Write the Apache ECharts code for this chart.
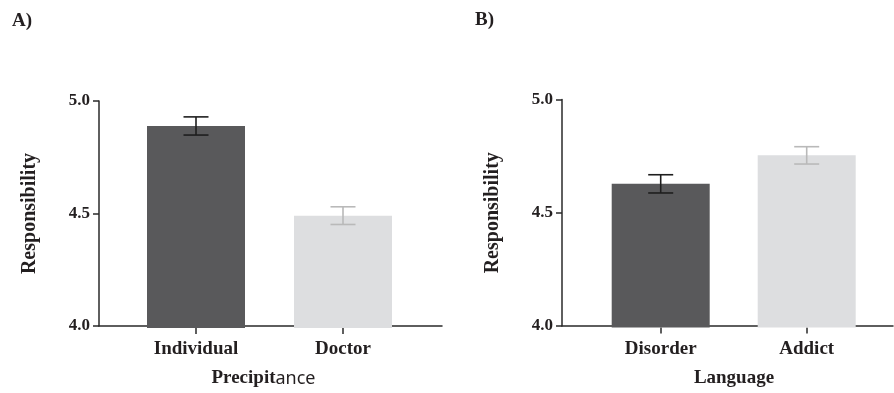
<!DOCTYPE html>
<html>
<head>
<meta charset="utf-8">
<script src="https://cdn.jsdelivr.net/npm/echarts@6/dist/echarts.min.js"></script>
<style>html,body{margin:0;padding:0;background:#fff}#c{width:894px;height:393px}</style>
</head>
<body>
<div id="c"></div>
<script>
// ---- data ----
const catsA = ['Individual', 'Doctor'];
const meansA = [4.89, 4.495];
const errsA = [0.04, 0.039];
const catsB = ['Disorder', 'Addict'];
const meansB = [4.63, 4.755];
const errsB = [0.04, 0.038];
const yMin = 4.0, yMax = 5.0, yStep = 0.5;
const yTitle = 'Responsibility';
const xTitleA = ['Precipit', 'ance'];
const xTitleB = 'Language';
const panelLabels = ['A)', 'B)'];

// ---- styles ----
const SERIF = '"Liberation Serif", "Times New Roman", serif';
const barColors = ['#59595b', '#dddee0'];
const errColors = ['#1e1e1e', '#b9b9b9'];
const axisColor = '#2a2a2a';
const textColor = '#231f20';

const chart = echarts.init(document.getElementById('c'), null, {renderer: 'canvas'});

function errSeries(xi, yi, means, errs) {
  return {
    type: 'custom', xAxisIndex: xi, yAxisIndex: yi, z: 5,
    data: means.map((m, i) => [i, m, errs[i]]),
    renderItem: function (params, api) {
      const x = api.value(0), m = api.value(1), e = api.value(2);
      const t = api.coord([x, m + e]);
      const b = api.coord([x, m - e]);
      const hw = 12.5;
      const st = {stroke: errColors[params.dataIndex], lineWidth: 1.6};
      return {type: 'group', children: [
        {type: 'line', shape: {x1: t[0], y1: t[1], x2: b[0], y2: b[1]}, style: st},
        {type: 'line', shape: {x1: t[0] - hw, y1: t[1], x2: t[0] + hw, y2: t[1]}, style: st},
        {type: 'line', shape: {x1: b[0] - hw, y1: b[1], x2: b[0] + hw, y2: b[1]}, style: st}
      ]};
    }
  };
}

function barSeries(xi, yi, means) {
  return {
    type: 'bar', xAxisIndex: xi, yAxisIndex: yi, barWidth: 98,
    data: means.map((m, i) => ({value: m, itemStyle: {color: barColors[i]}}))
  };
}

const visY = (gi) => ({
  type: 'value', gridIndex: gi, min: yMin, max: yMax, interval: yStep,
  name: yTitle, nameLocation: 'middle', nameGap: 59,
  nameTextStyle: {fontFamily: SERIF, fontWeight: 'bold', fontSize: 20, color: textColor},
  axisLine: {show: true, lineStyle: {color: axisColor, width: 1.5}},
  axisTick: {show: true, length: 6, lineStyle: {color: axisColor, width: 1.5}},
  axisLabel: {fontFamily: SERIF, fontWeight: 'bold', fontSize: 17, color: textColor, margin: 9,
              formatter: v => v.toFixed(1)},
  splitLine: {show: false}
});
const hidY = (gi) => ({
  type: 'value', gridIndex: gi, min: yMin, max: yMax, interval: yStep, show: false
});
const lineX = (gi, name, pad, rich) => ({
  type: 'value', gridIndex: gi, min: 0, max: 1,
  name: name, nameLocation: 'middle', nameGap: 43,
  nameTextStyle: Object.assign({fontFamily: SERIF, fontWeight: 'bold', fontSize: 19, color: textColor, padding: pad},
                               rich ? {rich: rich} : {}),
  axisLine: {show: true, lineStyle: {color: axisColor, width: 1.5}},
  axisTick: {show: false}, axisLabel: {show: false}, splitLine: {show: false}
});
const catX = (gi, cats) => ({
  type: 'category', gridIndex: gi, data: cats,
  axisLine: {show: false},
  axisTick: {show: true, alignWithLabel: true, length: 6, lineStyle: {color: axisColor, width: 1.5}},
  axisLabel: {fontFamily: SERIF, fontWeight: 'bold', fontSize: 19, color: textColor, margin: 12}
});

const richA = {
  s: {fontFamily: SERIF, fontWeight: 'bold', fontSize: 19, color: textColor},
  n: {fontFamily: '"Noto Sans", sans-serif', fontWeight: 'normal', fontSize: 18, color: textColor}
};

chart.setOption({
  animation: false,
  backgroundColor: '#ffffff',
  grid: [
    {left: 99, top: 101, width: 343, height: 227},
    {left: 122.5, top: 101, width: 294, height: 227},
    {left: 562, top: 99.5, width: 331, height: 228},
    {left: 587.7, top: 99.5, width: 292, height: 228}
  ],
  xAxis: [
    lineX(0, '{s|' + xTitleA[0] + '}{n|' + xTitleA[1] + '}', [0, 14, 0, 0], richA),
    catX(1, catsA),
    lineX(2, xTitleB, [0, 0, 0, 13]),
    catX(3, catsB)
  ],
  yAxis: [visY(0), hidY(1), visY(2), hidY(3)],
  graphic: [
    {type: 'text', left: 12, top: 12, style: {text: panelLabels[0], font: 'bold 19px ' + SERIF, fill: textColor}},
    {type: 'text', left: 475, top: 11, style: {text: panelLabels[1], font: 'bold 19px ' + SERIF, fill: textColor}}
  ],
  series: [
    barSeries(1, 1, meansA),
    errSeries(1, 1, meansA, errsA),
    barSeries(3, 3, meansB),
    errSeries(3, 3, meansB, errsB)
  ]
});
</script>
</body>
</html>
